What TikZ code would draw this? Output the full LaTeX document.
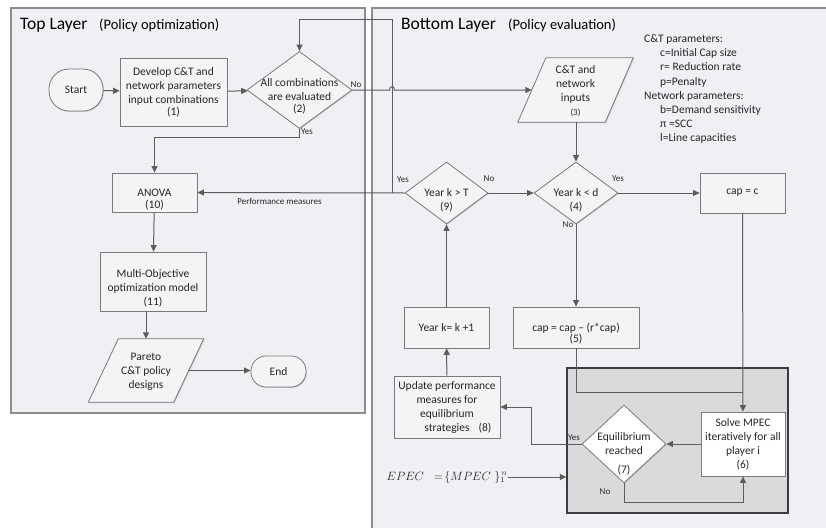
\documentclass[tikz,border=0pt]{standalone}
\usepackage{fontspec}
\setmainfont{Carlito}
\usetikzlibrary{arrows.meta,shapes.geometric,shadows}
\definecolor{panelfill}{HTML}{EFF0F3}
\definecolor{panelline}{HTML}{8C8C8C}
\definecolor{boxfill}{HTML}{F4F4F4}
\definecolor{boxline}{HTML}{7A7A7A}
\definecolor{wire}{HTML}{5C5C5C}
\definecolor{eqfill}{HTML}{D9DADC}
\definecolor{eqline}{HTML}{3C3C3C}
\definecolor{ink}{HTML}{262626}
\tikzset{
  panel/.style={draw=panelline, fill=panelfill, line width=1.2pt},
  softshadow/.style={drop shadow={shadow xshift=0.9pt, shadow yshift=-0.9pt, opacity=0.3}},
  boxtext/.style={font=\fontsize{11.5}{14}\selectfont, text=ink, align=center, inner sep=0pt},
  procbox/.style={rectangle, draw=boxline, fill=boxfill, line width=0.8pt, inner sep=0pt, boxtext, softshadow},
  decision/.style={diamond, draw=boxline, fill=boxfill, line width=0.8pt, inner sep=0pt, softshadow},
  slantframe/.style={draw=boxline, fill=boxfill, line width=0.8pt, softshadow},
  flow/.style={draw=wire, line width=1pt, -{Triangle[length=6.5pt,width=6pt]}},
  wireline/.style={draw=wire, line width=1pt},
  yesno/.style={font=\fontsize{9}{10}\selectfont, text=ink, inner sep=0pt},
  layertitle/.style={font=\fontsize{17.5}{20}\selectfont, text=black, inner sep=0pt, anchor=base west},
  layersub/.style={font=\fontsize{14.5}{17}\selectfont, text=black, inner sep=0pt, anchor=base west},
}
\begin{document}
\begin{tikzpicture}[x=1pt,y=-1pt]
\useasboundingbox (0,0) rectangle (826,527);

% the two layers
\path[panel] (11,8) rectangle (365,413);
\path[panel] (372,8) rectangle (834,535);
\node[layertitle] (toptitle) at (20,30) {Top Layer};
\node[layersub] (topsub) at (99,30) {(Policy optimization)};
\node[layertitle] (bottitle) at (401,30) {Bottom Layer};
\node[layersub] (botsub) at (508,30) {(Policy evaluation)};

% parameter legend
\node[font=\fontsize{11.5}{14.2}\selectfont, text=ink, align=left, anchor=north west, inner sep=0pt] (legend) at (644,34.5)
  {C\&T parameters:\\
   \hspace*{16pt}c=Initial Cap size\\
   \hspace*{16pt}r= Reduction rate\\
   \hspace*{16pt}p=Penalty\\
   Network parameters:\\
   \hspace*{16pt}b=Demand sensitivity\\
   \hspace*{16pt}π =SCC\\
   \hspace*{16pt}l=Line capacities};

% equilibrium sub-problem frame
\node[rectangle, draw=eqline, fill=eqfill, line width=1.3pt, minimum width=221pt, minimum height=145pt, inner sep=0pt] (eq) at (677.5,440.5) {};

% ---- top layer nodes
\node[procbox, rounded corners=20pt, minimum width=54pt, minimum height=42pt] (start) at (76,90) {Start};
\node[procbox, minimum width=107pt, minimum height=68pt] (develop) at (173.5,92)
  {Develop C\&T and\\network parameters\\input combinations\\[-2pt](1)};
\node[decision, minimum width=105pt, minimum height=77pt,
  label={[boxtext,yshift=-6pt]center:All combinations\\are evaluated\\[-2pt](2)}] (allcomb) at (299.5,90) {};
\node[procbox, minimum width=85pt, minimum height=39pt,
  label={[boxtext,yshift=-7pt]center:ANOVA\\[-2pt](10)}] (anova) at (154.5,192.5) {};
\node[procbox, minimum width=106pt, minimum height=59pt,
  label={[boxtext,yshift=-7pt]center:Multi-Objective\\optimization model\\(11)}] (moo) at (153,281.5) {};
\node[minimum width=85pt, minimum height=63pt, inner sep=0pt] (pareto) at (146,370.5) {};
\path[slantframe] ([xshift=15pt]pareto.north west) -- ([xshift=15pt]pareto.north east)
  -- ([xshift=-15pt]pareto.south east) -- ([xshift=-15pt]pareto.south west) -- cycle;
\node[boxtext] (paretotext) at ([yshift=-1pt]pareto.center) {Pareto\\C\&T policy\\designs};
\node[procbox, rounded corners=15pt, minimum width=55pt, minimum height=31pt] (finish) at (278.5,371.5) {End};

% ---- bottom layer nodes
\node[minimum width=87pt, minimum height=64pt, inner sep=0pt] (inputs) at (575.5,90) {};
\path[slantframe] ([xshift=14pt]inputs.north west) -- ([xshift=14pt]inputs.north east)
  -- ([xshift=-14pt]inputs.south east) -- ([xshift=-14pt]inputs.south west) -- cycle;
\node[boxtext] (inputstext) at ([yshift=-1pt]inputs.center) {C\&T and\\network\\inputs\\{\fontsize{9}{11}\selectfont (3)}};
\node[decision, minimum width=84pt, minimum height=62pt,
  label={[boxtext,yshift=-7.5pt]center:Year k < d\\(4)}] (yeard) at (576,193) {};
\node[decision, minimum width=83pt, minimum height=62pt,
  label={[boxtext,yshift=-7.5pt]center:Year k > T\\(9)}] (yearT) at (446.5,193) {};
\node[procbox, minimum width=85pt, minimum height=40pt] (capc) at (742.5,193) {cap = c};
\node[procbox, minimum width=85pt, minimum height=41pt] (nextyear) at (446.5,327.5) {Year k= k +1};
\node[procbox, minimum width=126pt, minimum height=41pt,
  label={[boxtext,yshift=-6.5pt]center:cap = cap – (r*cap)\\[-3pt](5)}] (capred) at (576,327.5) {};
\node[procbox, minimum width=106pt, minimum height=62pt] (update) at (447,407)
  {Update performance\\measures for\\equilibrium\\strategies\rlap{\hspace{9pt}(8)}};
\node[decision, fill=white, minimum width=84pt, minimum height=78pt,
  label={[boxtext,yshift=-10pt]center:Equilibrium\\reached\\[5pt](7)}] (equil) at (624,444) {};
\node[procbox, fill=white, minimum width=84pt, minimum height=64pt] (mpec) at (743,444)
  {Solve MPEC\\iteratively for all\\player i\\(6)};
\node[inner sep=0pt, font=\fontsize{12}{14}\selectfont, text=ink] (epec) at (447,477)
  {$EPEC\;\;=\!\{MPEC\;\}_1^{\,n}$};

% ---- connectors
\coordinate (loopx) at (392,20);
\coordinate (merge) at (742.5,392);
\draw[flow] (start) -- (develop);
\draw[flow] (develop) -- (allcomb);
\draw[flow] (allcomb.east) -- ([xshift=-2.5pt]loopx |- allcomb.east)
  .. controls ([xshift=-2.5pt,yshift=4.5pt]loopx |- allcomb.east) and ([xshift=2.5pt,yshift=4.5pt]loopx |- allcomb.east)
  .. ([xshift=2.5pt]loopx |- allcomb.east) -- (inputs.west);
\draw[flow] (allcomb.south) -- ++(0,9) -| (anova.north);
\draw[flow] (anova) -- (moo);
\draw[flow] (moo.south -| pareto.north) -- (pareto.north);
\draw[flow] (pareto.east) -- (pareto.east -| finish.west);
\draw[flow] (inputs.south -| yeard.north) -- (yeard.north);
\draw[flow] (yeard) -- (capc);
\draw[flow] (yeard) -- (capred);
\draw[flow] (yearT) -- (yeard);
\draw[flow] (yearT.west) -- (anova.east);
\draw[flow] (yearT.west -| loopx) -- (loopx) -- (loopx -| allcomb.north) -- (allcomb.north);
\draw[flow] (nextyear) -- (yearT);
\draw[flow] (update) -- (nextyear);
\draw[flow] (capc) -- (mpec);
\draw[wireline] (capred.south) |- (merge);
\draw[flow] (mpec) -- (equil);
\draw[flow] (equil.west) -- ++(-50,0) |- (update.east);
\draw[flow] (equil.south) -- ++(0,19) -| (mpec.south);
\draw[flow] (epec.east) -- (epec.east -| eq.west);

% ---- branch labels
\node[yesno] (no2) at (356,85) {No};
\node[yesno, anchor=west] (yes2) at (301,132) {Yes};
\node[yesno] (yes9) at (403,180) {Yes};
\node[yesno] (no9) at (489,179) {No};
\node[yesno] (yes4) at (618,179) {Yes};
\node[yesno] (no4) at (568,225) {No};
\node[yesno] (yes7) at (574,438) {Yes};
\node[yesno] (no7) at (605,492) {No};
\node[yesno] (perf) at (279.5,201) {Performance measures};
\end{tikzpicture}
\end{document}
